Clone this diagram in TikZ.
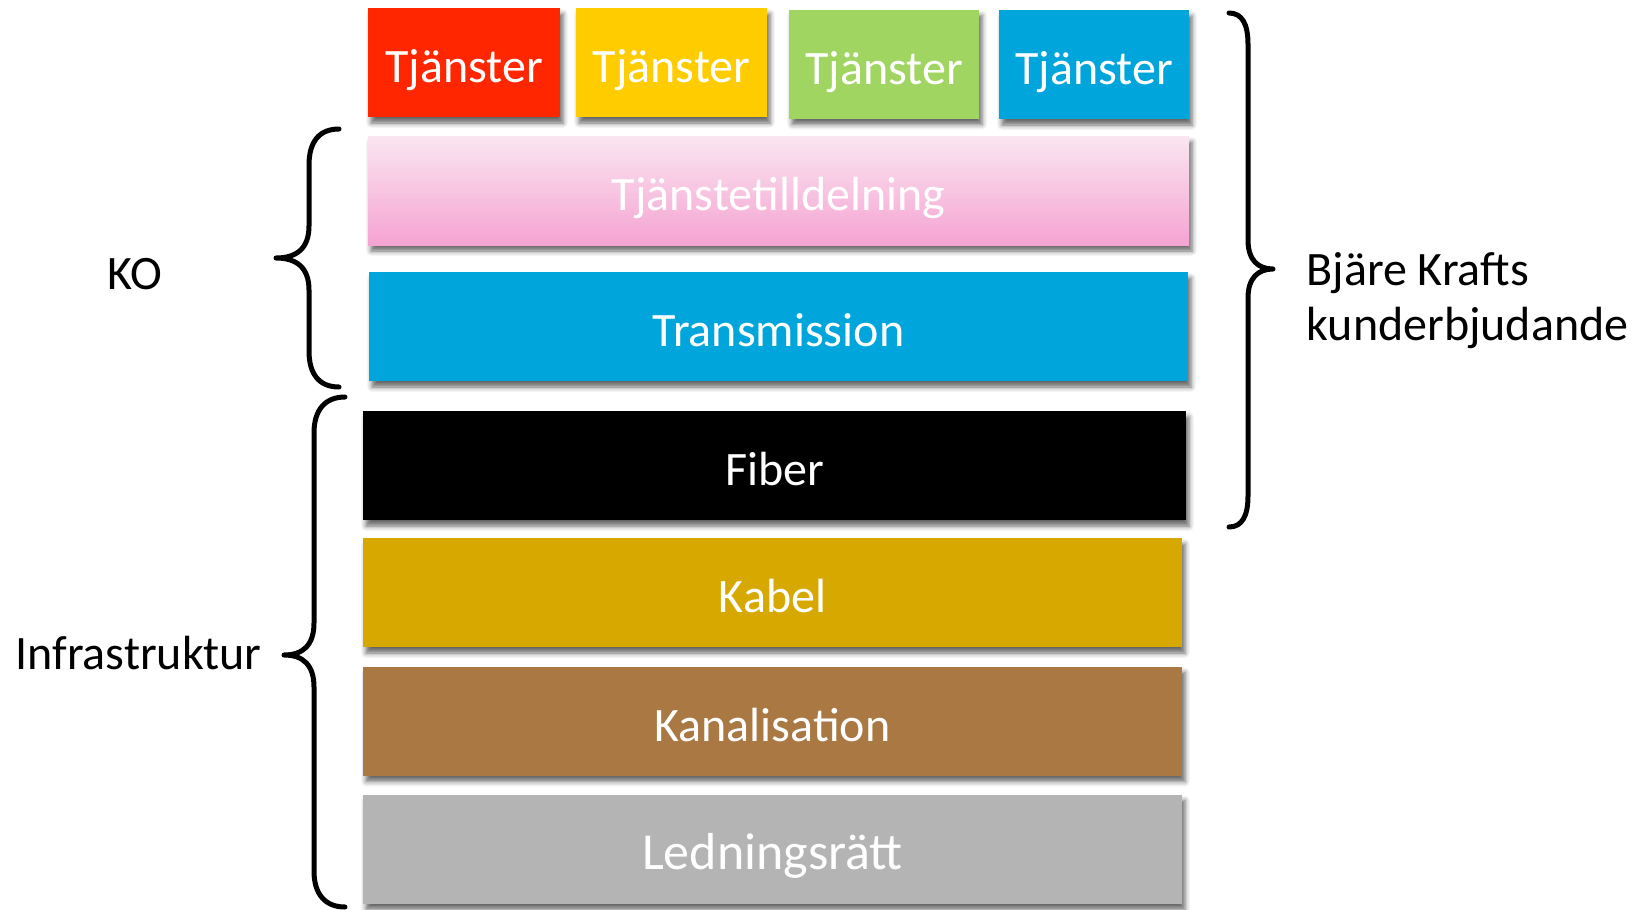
\documentclass[tikz,border=0pt]{standalone}
\usepackage{fontspec}
\setmainfont{Carlito}
\usepackage{tikz}
\usetikzlibrary{shadows}
\usetikzlibrary{shadows.blur}

\definecolor{tjred}{RGB}{255,38,0}
\definecolor{tjyellow}{RGB}{255,204,0}
\definecolor{tjgreen}{RGB}{160,213,98}
\definecolor{tjblue}{RGB}{0,165,219}
\definecolor{pinktop}{RGB}{250,230,241}
\definecolor{pinkbot}{RGB}{245,163,210}
\definecolor{kabelgold}{RGB}{214,168,0}
\definecolor{kanalbrown}{RGB}{169,120,67}
\definecolor{ledgray}{RGB}{180,180,180}

\tikzset{
	layer/.style={rectangle, inner sep=0pt, minimum height=109pt, text=white,
		font=\fontsize{48}{58}\selectfont, text height=46pt, text depth=6pt,
		blur shadow={shadow xshift=3pt, shadow yshift=-6pt, shadow blur radius=5pt, shadow opacity=60}},
	lbl/.style={font=\fontsize{48}{58}\selectfont},
	klammer/.style={line width=5pt, line cap=round, line join=round}
}

\begin{document}
\begin{tikzpicture}[x=1pt,y=-1pt]
	\useasboundingbox (0,0) rectangle (1639,910);

	\node[layer,fill=tjred,minimum width=192pt](t1) at (464,62.5) {Tjänster};
	\node[layer,fill=tjyellow,minimum width=191pt](t2) at (671.5,62.5) {Tjänster};
	\node[layer,fill=tjgreen,minimum width=190pt](t3) at (884,64) {Tjänster};
	\node[layer,fill=tjblue,minimum width=190pt](t4) at (1094,64.5) {Tjänster};
	\node[layer,top color=pinktop,bottom color=pinkbot,minimum width=821pt](tilldel) at (778.5,190.5) {Tjänstetilldelning};
	\node[layer,fill=tjblue,minimum width=819pt](trans) at (778.5,326.5) {Transmission};
	\node[layer,fill=black,minimum width=823pt](fiber) at (774.5,465.5) {Fiber};
	\node[layer,fill=kabelgold,minimum width=819pt](kabel) at (772.5,592.5) {Kabel};
	\node[layer,fill=kanalbrown,minimum width=819pt](kanal) at (772.5,721) {Kanalisation};
	\node[layer,fill=ledgray,minimum width=819pt,font=\fontsize{52}{60}\selectfont](ledning) at (772.5,849) {Ledningsrätt};

	\node[lbl,anchor=base](ko) at (135,289) {KO};
	\node[lbl,anchor=base](infra) at (138.5,669) {Infrastruktur};
	\node[lbl,anchor=base west](bjare) at (1303,285) {Bjäre Krafts};
	\node[lbl,anchor=base west](kunder) at (1303,340) {kunderbjudande};

	\draw[klammer] (339,129) .. controls (319,129) and (309,142) .. (309,165) -- (309,226)
		.. controls (309,248) and (297,258) .. (276,258) .. controls (297,258) and (309,268) .. (309,290)
		-- (309,351) .. controls (309,374) and (319,387) .. (339,387);
	\draw[klammer] (345,397) .. controls (325,397) and (314,410) .. (314,433) -- (314,623)
		.. controls (314,645) and (303,655) .. (284,655) .. controls (303,655) and (314,665) .. (314,687)
		-- (314,871) .. controls (314,894) and (325,907) .. (345,907);
	\draw[klammer] (1229,13) .. controls (1242,13) and (1248,24) .. (1248,44) -- (1248,240)
		.. controls (1248,260) and (1258,269) .. (1273,269) .. controls (1258,269) and (1248,278) .. (1248,298)
		-- (1248,496) .. controls (1248,516) and (1242,527) .. (1229,527);
\end{tikzpicture}
\end{document}
